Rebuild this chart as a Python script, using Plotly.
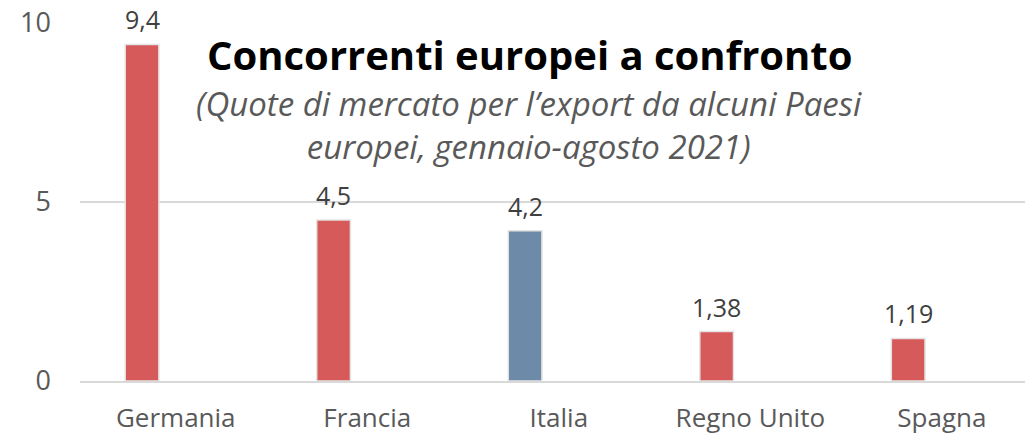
import plotly.graph_objects as go

categories = ["Germania", "Francia", "Italia", "Regno Unito", "Spagna"]
values = [9.4, 4.5, 4.2, 1.38, 1.19]
value_labels = ["9,4", "4,5", "4,2", "1,38", "1,19"]
bar_colors = ["#D75A5B", "#D75A5B", "#6D8BA8", "#D75A5B", "#D75A5B"]
y_ticks = [0, 5, 10]

title_text = "Concorrenti europei a confronto"
subtitle_text = "(Quote di mercato per l’export da alcuni Paesi<br>europei, gennaio-agosto 2021)"

xs = list(range(len(categories)))
bar_offset = -0.264
bar_width = 0.176

ML, MR, MT, MB = 80, 0, 23, 55
W, H = 1025, 436

fig = go.Figure()
fig.add_trace(go.Bar(
    x=xs, y=values,
    offset=bar_offset, width=bar_width,
    marker=dict(color=bar_colors, line=dict(color="#E4E4E4", width=1.5)),
    hoverinfo="skip",
))

for i, (v, t) in enumerate(zip(values, value_labels)):
    fig.add_annotation(
        x=i + bar_offset + bar_width / 2, y=v, xref="x", yref="y",
        text=t, showarrow=False, yanchor="bottom", yshift=6,
        font=dict(family="Open Sans", size=25, color="#404040"),
    )

fig.update_layout(
    width=W, height=H,
    margin=dict(l=ML, r=MR, t=MT, b=MB, pad=0, autoexpand=False),
    paper_bgcolor="white", plot_bgcolor="white",
    showlegend=False,
    font=dict(family="Open Sans", size=27, color="#595959"),
    xaxis=dict(
        range=[-0.5, 4.434], automargin=False,
        tickmode="array", tickvals=xs, ticktext=categories,
        showgrid=False, zeroline=False,
        showline=True, linecolor="#D9D9D9", linewidth=2,
        ticks="", ticklabelstandoff=13,
        tickfont=dict(family="Open Sans", size=26, color="#595959"),
    ),
    yaxis=dict(
        range=[0, 10], automargin=False,
        tickmode="array", tickvals=y_ticks, ticktext=[str(t) for t in y_ticks],
        showgrid=True, gridcolor="#D9D9D9", gridwidth=2,
        zeroline=False, showline=False,
        ticks="", ticklabelstandoff=28,
        tickfont=dict(family="Open Sans", size=27, color="#595959"),
    ),
)

plot_w = W - ML - MR
plot_h = H - MT - MB

def px_to_paper_x(px):
    return (px - ML) / plot_w

def px_to_paper_y(py):
    return (H - MB - py) / plot_h

fig.add_annotation(
    x=px_to_paper_x(530), y=px_to_paper_y(54), xref="paper", yref="paper",
    text="<b>" + title_text + "</b>", showarrow=False,
    xanchor="center", yanchor="middle",
    font=dict(family="Open Sans", size=40, color="#000000"),
)
fig.add_annotation(
    x=px_to_paper_x(529), y=px_to_paper_y(125), xref="paper", yref="paper",
    text="<i>" + subtitle_text + "</i>", showarrow=False,
    xanchor="center", yanchor="middle", align="center",
    font=dict(family="Open Sans", size=33, color="#595959"),
)

fig.write_html(
    "out.html",
    config={"displayModeBar": False},
    post_script="document.body.style.margin='0px';",
)
